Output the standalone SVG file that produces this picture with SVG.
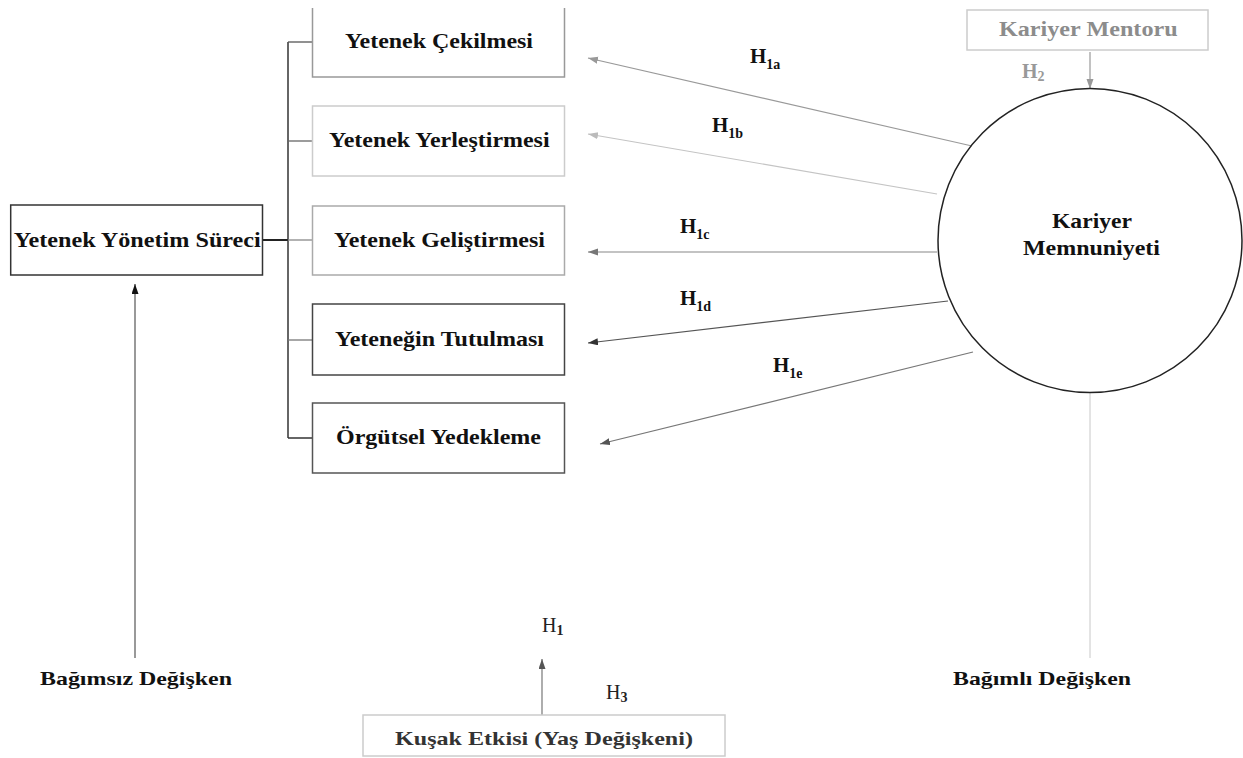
<svg xmlns="http://www.w3.org/2000/svg" width="1243" height="758" viewBox="0 0 1243 758">
<style>
  text { font-family: "Liberation Serif", "Times New Roman", serif; }
  .lbl { font-size: 21px; font-weight: bold; fill: #111; }
  .h { font-size: 21px; font-weight: bold; fill: #111; }
  .sub { font-size: 14px; font-weight: bold; }
  .box { fill: #fff; stroke-width: 1.5; }
  .conn { fill: none; stroke-width: 1.2; }
</style>
<defs>
  <marker id="a999" markerUnits="userSpaceOnUse" markerWidth="11" markerHeight="8" refX="10" refY="3.5" orient="auto"><path d="M0,0 L10,3.5 L0,7 z" fill="#999"/></marker>
  <marker id="abbb" markerUnits="userSpaceOnUse" markerWidth="11" markerHeight="8" refX="10" refY="3.5" orient="auto"><path d="M0,0 L10,3.5 L0,7 z" fill="#bbb"/></marker>
  <marker id="a888" markerUnits="userSpaceOnUse" markerWidth="11" markerHeight="8" refX="10" refY="3.5" orient="auto"><path d="M0,0 L10,3.5 L0,7 z" fill="#777"/></marker>
  <marker id="a444" markerUnits="userSpaceOnUse" markerWidth="11" markerHeight="8" refX="10" refY="3.5" orient="auto"><path d="M0,0 L10,3.5 L0,7 z" fill="#333"/></marker>
  <marker id="a666" markerUnits="userSpaceOnUse" markerWidth="11" markerHeight="8" refX="10" refY="3.5" orient="auto"><path d="M0,0 L10,3.5 L0,7 z" fill="#555"/></marker>
  <marker id="a000" markerUnits="userSpaceOnUse" markerWidth="11" markerHeight="8" refX="10" refY="3.5" orient="auto"><path d="M0,0 L10,3.5 L0,7 z" fill="#111"/></marker>
</defs>
<rect width="1243" height="758" fill="#fff"/>

<g id="connectors">
  <line x1="262.5" y1="240" x2="288" y2="240" stroke="#222" stroke-width="2"/>
  <line x1="288" y1="42" x2="288" y2="438" stroke="#333" stroke-width="1.5"/>
  <line x1="288" y1="42" x2="312.5" y2="42" stroke="#555" stroke-width="1.3"/>
  <line x1="288" y1="141" x2="312.5" y2="141" stroke="#666" stroke-width="1.3"/>
  <line x1="288" y1="240" x2="312.5" y2="240" stroke="#888" stroke-width="1.3"/>
  <line x1="288" y1="340" x2="312.5" y2="340" stroke="#777" stroke-width="1.3"/>
  <line x1="288" y1="438" x2="312.5" y2="438" stroke="#333" stroke-width="1.5"/>
  <line class="conn" x1="972" y1="146" x2="588" y2="58" stroke="#999" marker-end="url(#a999)"/>
  <line class="conn" x1="937" y1="194" x2="588" y2="134" stroke="#c4c4c4" marker-end="url(#abbb)"/>
  <line class="conn" x1="937" y1="252" x2="588" y2="252" stroke="#888" marker-end="url(#a888)"/>
  <line class="conn" x1="948" y1="301" x2="588" y2="343" stroke="#555" marker-end="url(#a444)"/>
  <line class="conn" x1="973" y1="352" x2="600" y2="444" stroke="#777" marker-end="url(#a666)"/>
  <line class="conn" x1="1090" y1="52" x2="1090" y2="89" stroke="#999" marker-end="url(#a999)"/>
  <line class="conn" x1="135" y1="658" x2="135" y2="284" stroke="#555" stroke-width="1" marker-end="url(#a000)"/>
  <line class="conn" x1="542" y1="715" x2="542" y2="659" stroke="#777" marker-end="url(#a666)"/>
  <line x1="1090" y1="392" x2="1090" y2="658" stroke="#c8c8c8" stroke-width="1"/>
</g>

<g id="node-yonetim">
  <rect class="box" x="10.7" y="205" width="251.8" height="70" stroke="#333"/>
  <text class="lbl" x="13.8" y="247" textLength="247" lengthAdjust="spacingAndGlyphs">Yetenek Yönetim Süreci</text>
</g>
<g id="node-cekilme">
  <path d="M312.5,8 V77 H564.5 V8" fill="#fff" stroke="#999" stroke-width="1.5"/>
  <text class="lbl" x="345" y="48" textLength="188" lengthAdjust="spacingAndGlyphs">Yetenek Çekilmesi</text>
</g>
<g id="node-yerlestirme">
  <rect class="box" x="312.5" y="106" width="252" height="70" stroke="#ccc"/>
  <text class="lbl" x="329" y="147" textLength="220.6" lengthAdjust="spacingAndGlyphs">Yetenek Yerleştirmesi</text>
</g>
<g id="node-gelistirme">
  <rect class="box" x="312.5" y="206" width="252" height="69" stroke="#aaa"/>
  <text class="lbl" x="334" y="247" textLength="211" lengthAdjust="spacingAndGlyphs">Yetenek Geliştirmesi</text>
</g>
<g id="node-tutulma">
  <rect class="box" x="312.5" y="304" width="252" height="71" stroke="#444"/>
  <text class="lbl" x="335" y="346" textLength="209" lengthAdjust="spacingAndGlyphs">Yeteneğin Tutulması</text>
</g>
<g id="node-yedekleme">
  <rect class="box" x="312.5" y="403" width="252" height="70" stroke="#555"/>
  <text class="lbl" x="336" y="444" textLength="205" lengthAdjust="spacingAndGlyphs">Örgütsel Yedekleme</text>
</g>
<g id="node-mentor">
  <rect class="box" x="967" y="10" width="241" height="40" stroke="#ccc"/>
  <text class="lbl" x="999" y="36" style="font-size:20px;fill:#8c8c8c" textLength="178.6" lengthAdjust="spacingAndGlyphs">Kariyer Mentoru</text>
</g>
<g id="node-memnuniyet">
  <circle cx="1090" cy="240.5" r="152" fill="none" stroke="#222" stroke-width="1.5"/>
  <text class="lbl" x="1052" y="228" textLength="80" lengthAdjust="spacingAndGlyphs">Kariyer</text>
  <text class="lbl" x="1023" y="255" textLength="137" lengthAdjust="spacingAndGlyphs">Memnuniyeti</text>
</g>
<g id="node-kusak">
  <rect class="box" x="363" y="715" width="362" height="41" stroke="#ccc"/>
  <text class="lbl" x="395" y="745" style="font-size:19px;fill:#333" textLength="298" lengthAdjust="spacingAndGlyphs">Kuşak Etkisi (Yaş Değişkeni)</text>
</g>

<g id="labels">
  <text class="lbl" x="40" y="685" style="font-size:19px" textLength="192" lengthAdjust="spacingAndGlyphs">Bağımsız Değişken</text>
  <text class="lbl" x="953" y="685" style="font-size:19px" textLength="178" lengthAdjust="spacingAndGlyphs">Bağımlı Değişken</text>

  <text class="h" x="750" y="63">H<tspan class="sub" y="69">1a</tspan></text>
  <text class="h" x="712" y="132">H<tspan class="sub" y="138">1b</tspan></text>
  <text class="h" x="680" y="233">H<tspan class="sub" y="239">1c</tspan></text>
  <text class="h" x="680" y="305">H<tspan class="sub" y="311">1d</tspan></text>
  <text class="h" x="773" y="372">H<tspan class="sub" y="378">1e</tspan></text>
  <text class="h" x="1022" y="78" style="font-size:20px;fill:#999">H<tspan class="sub" y="81">2</tspan></text>
  <text x="542" y="632" style="font-size:20px;fill:#222">H<tspan class="sub" y="635">1</tspan></text>
  <text x="606" y="699" style="font-size:20px;fill:#222">H<tspan class="sub" y="702">3</tspan></text>
</g>
</svg>
